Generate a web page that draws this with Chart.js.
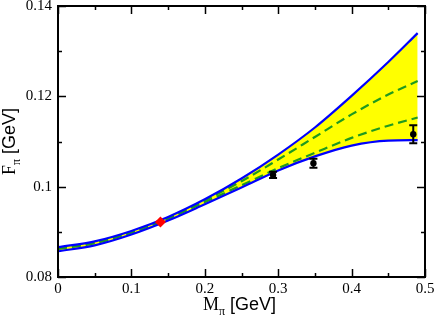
<!DOCTYPE html>
<html>
<head>
<meta charset="utf-8">
<script src="https://cdn.jsdelivr.net/npm/chart.js@4"></script>
<style>
  html, body { margin: 0; padding: 0; background: #fff; }
  #wrap { width: 436px; height: 319px; }
</style>
</head>
<body>
<div id="wrap"><canvas id="chart" width="436" height="319"></canvas></div>
<script>
// Pion mass grid (GeV) for the curves
const mpi = [0, 0.05, 0.1, 0.15, 0.2, 0.25, 0.3, 0.35, 0.4, 0.45, 0.49];
// Band edges (blue) and central dashed curves (green)
const bandUpper = [0.0866, 0.0879, 0.0902, 0.0933, 0.0972, 0.1018, 0.1071, 0.1131, 0.1201, 0.1276, 0.1340];
const bandLower = [0.0857, 0.0870, 0.0894, 0.0925, 0.0961, 0.0998, 0.1036, 0.1067, 0.1091, 0.1102, 0.1103];
const dashUpper = [0.0863, 0.0876, 0.0899, 0.0931, 0.0970, 0.1012, 0.1060, 0.1110, 0.1160, 0.1204, 0.1234];
const dashLower = [0.0862, 0.0875, 0.0898, 0.0929, 0.0966, 0.1003, 0.1041, 0.1075, 0.1108, 0.1135, 0.1153];

// lattice points with errors
const latticeM = [0.293, 0.348, 0.484];
const latticeF = [0.1026, 0.1052, 0.1116];
const latticeErr = [0.0007, 0.0010, 0.0020];

// physical point
const physM = [0.1396];
const physF = [0.0922];

const xTicks = [0, 0.1, 0.2, 0.3, 0.4, 0.5];
const yTicks = [0.08, 0.1, 0.12, 0.14];

const pts = (xs, ys) => xs.map((x, i) => ({ x, y: ys[i] }));
const fmt = v => String(parseFloat(Number(v).toFixed(3)));

// inward ticks on all four sides + frame
const frameTicks = {
    id: 'frameTicks',
    afterDraw(chart) {
        const { ctx, chartArea: a, scales } = chart;
        const xs = scales.x, ys = scales.y;
        ctx.save();
        ctx.strokeStyle = '#000';
        ctx.lineWidth = 1.5;
        const tick = (x1, y1, x2, y2) => { ctx.beginPath(); ctx.moveTo(x1, y1); ctx.lineTo(x2, y2); ctx.stroke(); };
        for (let v = 0; v <= 0.5001; v += 0.05) {
            const px = Math.round(xs.getPixelForValue(v)) + 0.5;
            const len = Math.abs(v * 10 - Math.round(v * 10)) < 1e-6 ? 8 : 4;
            tick(px, a.bottom, px, a.bottom - len);
            tick(px, a.top, px, a.top + len);
        }
        for (let v = 0.08; v <= 0.14001; v += 0.01) {
            const py = Math.round(ys.getPixelForValue(v)) + 0.5;
            const len = Math.abs(v * 50 - Math.round(v * 50)) < 1e-6 ? 8 : 4;
            tick(a.left, py, a.left + len, py);
            tick(a.right, py, a.right - len, py);
        }
        ctx.lineWidth = 2;
        ctx.strokeRect(a.left, a.top, a.right - a.left, a.bottom - a.top);
        ctx.restore();
    }
};

// error bars for lattice points
const errorBars = {
    id: 'errorBars',
    afterDatasetsDraw(chart) {
        const { ctx, scales } = chart;
        ctx.save();
        ctx.strokeStyle = '#000';
        ctx.lineWidth = 2;
        latticeM.forEach((m, i) => {
            const px = scales.x.getPixelForValue(m);
            const top = scales.y.getPixelForValue(latticeF[i] + latticeErr[i]);
            const bot = scales.y.getPixelForValue(latticeF[i] - latticeErr[i]);
            ctx.beginPath();
            ctx.moveTo(px, top); ctx.lineTo(px, bot);
            ctx.moveTo(px - 4, top); ctx.lineTo(px + 4, top);
            ctx.moveTo(px - 4, bot); ctx.lineTo(px + 4, bot);
            ctx.stroke();
        });
        ctx.restore();
    }
};

// axis titles with subscripts
const axisTitles = {
    id: 'axisTitles',
    afterDraw(chart) {
        const { ctx, chartArea: a } = chart;
        const drawTitle = (sym, sub, rest) => {
            ctx.font = '18px "Liberation Serif"';
            const w1 = ctx.measureText(sym).width;
            ctx.font = '12px "Liberation Serif"';
            const w2 = ctx.measureText(sub).width;
            ctx.font = '18px "Liberation Sans"';
            const w3 = ctx.measureText(rest).width;
            let x = -(w1 + w2 + w3) / 2;
            ctx.textBaseline = 'alphabetic';
            ctx.textAlign = 'left';
            ctx.font = '18px "Liberation Serif"';
            ctx.fillText(sym, x, 0); x += w1;
            ctx.font = '12px "Liberation Serif"';
            ctx.fillText(sub, x, 5); x += w2;
            ctx.font = '18px "Liberation Sans"';
            ctx.fillText(rest, x, 0);
        };
        ctx.save();
        ctx.fillStyle = '#000';
        ctx.translate((a.left + a.right) / 2 - 2, 310);
        drawTitle('M', 'π', ' [GeV]');
        ctx.restore();
        ctx.save();
        ctx.fillStyle = '#000';
        ctx.translate(15, (a.top + a.bottom) / 2);
        ctx.rotate(-Math.PI / 2);
        drawTitle('F', 'π', ' [GeV]');
        ctx.restore();
    }
};

const lineBase = { pointRadius: 0, cubicInterpolationMode: 'monotone', fill: false };

new Chart(document.getElementById('chart'), {
    type: 'scatter',
    data: {
        datasets: [
            {
                data: pts(physM, physF),
                pointStyle: 'rectRot', pointRadius: 5.5,
                backgroundColor: '#ff0000', borderColor: '#ff0000', borderWidth: 0
            },
            {
                data: pts(latticeM, latticeF),
                pointRadius: 3.2,
                backgroundColor: '#000', borderColor: '#000', borderWidth: 0
            },
            {
                ...lineBase, type: 'line', data: pts(mpi, bandUpper),
                borderColor: '#0000ff', borderWidth: 2.2,
                fill: '+1', backgroundColor: '#ffff00'
            },
            {
                ...lineBase, type: 'line', data: pts(mpi, bandLower),
                borderColor: '#0000ff', borderWidth: 2.2
            },
            {
                ...lineBase, type: 'line', data: pts(mpi, dashUpper),
                borderColor: '#1f9a1f', borderWidth: 2.2, borderDash: [9, 5]
            },
            {
                ...lineBase, type: 'line', data: pts(mpi, dashLower),
                borderColor: '#1f9a1f', borderWidth: 2.2, borderDash: [9, 5]
            }
        ]
    },
    options: {
        responsive: false,
        animation: false,
        layout: { padding: { top: 6, right: 11, left: 0, bottom: 0 } },
        plugins: {
            legend: { display: false },
            tooltip: { enabled: false },
            filler: { drawTime: 'beforeDatasetsDraw' }
        },
        scales: {
            x: {
                type: 'linear', min: 0, max: 0.5,
                afterFit: s => { s.height = 42; s.paddingLeft = 0; s.paddingRight = 0; },
                afterBuildTicks: s => { s.ticks = xTicks.map(v => ({ value: v })); },
                grid: { display: false, drawTicks: false }, border: { display: false },
                ticks: {
                    color: '#000', padding: 3,
                    font: { family: '"Liberation Serif"', size: 15 },
                    callback: v => fmt(v), maxRotation: 0, autoSkip: false
                }
            },
            y: {
                type: 'linear', min: 0.08, max: 0.14,
                afterFit: s => { s.width = 58; s.paddingTop = 0; s.paddingBottom = 0; },
                afterBuildTicks: s => { s.ticks = yTicks.map(v => ({ value: v })); },
                grid: { display: false, drawTicks: false }, border: { display: false },
                ticks: {
                    color: '#000', padding: 6,
                    font: { family: '"Liberation Serif"', size: 15 },
                    callback: v => fmt(v), autoSkip: false
                }
            }
        }
    },
    plugins: [errorBars, frameTicks, axisTitles]
});
</script>
</body>
</html>
